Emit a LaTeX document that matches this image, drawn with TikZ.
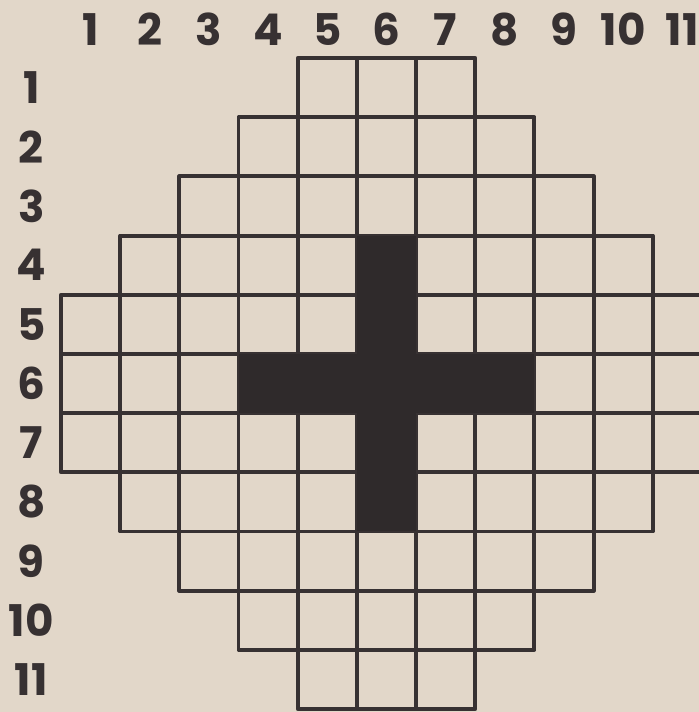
\documentclass[tikz,border=0pt]{standalone}
\usepackage{fontspec}
\setsansfont{Poppins}
\usepackage{tikz}
\definecolor{paper}{RGB}{226,215,201}
\definecolor{ink}{RGB}{55,49,50}

\begin{document}
\begin{tikzpicture}[x=1cm,y=1cm,line width=1.9pt,every node/.style={font=\sffamily\bfseries\fontsize{21}{21}\selectfont,text=ink}]
\fill[paper] (-1.03,0.98) rectangle (10.78,-11.05);
\useasboundingbox (-1.03,0.98) rectangle (10.78,-11.05);
% cells, row by row
\foreach \r/\a/\b in {1/5/7,2/4/8,3/3/9,4/2/10,5/1/11,6/1/11,7/1/11,8/2/10,9/3/9,10/4/8,11/5/7}
  \foreach \c in {\a,...,\b}
    \draw[ink, line join=round] (\c-1,-\r) rectangle (\c,-\r+1);
% the cross
\fill[ink!85!black] (5,-3) rectangle (6,-8);
\fill[ink!85!black] (3,-5) rectangle (8,-6);
% labels
\foreach \i in {1,...,11} {
  \node (c\i) at (\i-0.5,0.48) {\i};
  \node (r\i) at (-0.5,-\i+0.5) {\i};
}
\end{tikzpicture}
\end{document}
